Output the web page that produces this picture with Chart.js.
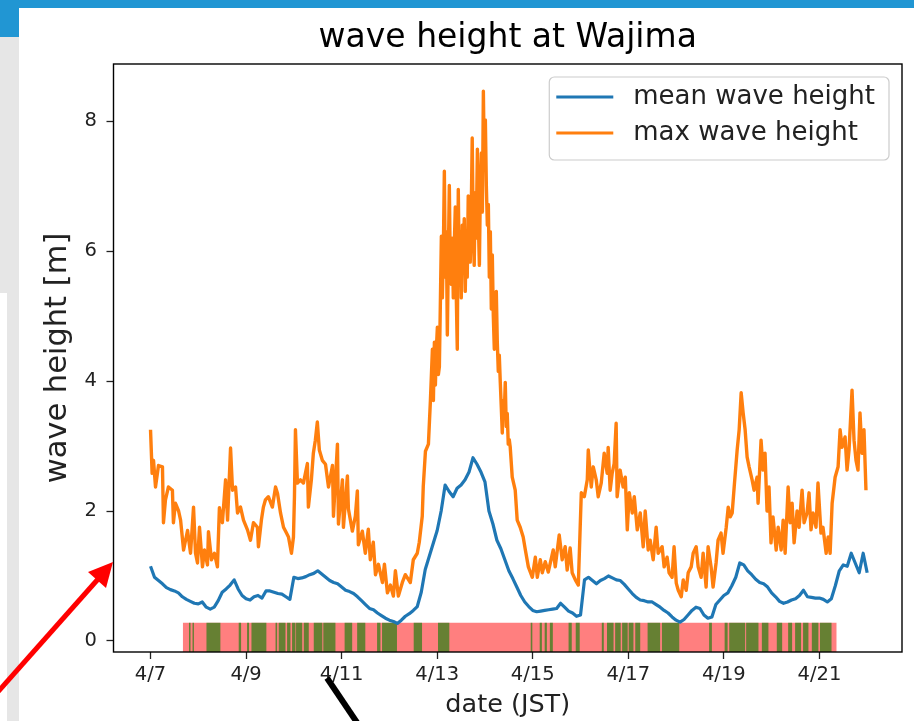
<!DOCTYPE html>
<html><head><meta charset="utf-8">
<script src="https://cdn.jsdelivr.net/npm/chart.js@4.4.1/dist/chart.umd.min.js"></script>
<style>
html,body{margin:0;padding:0;background:#fff;width:914px;height:721px;overflow:hidden;position:relative}
.deco{position:absolute}
#wrap{position:absolute;left:0;top:0;width:914px;height:721px}
#over{position:absolute;left:0;top:0;pointer-events:none}
</style></head><body>
<div class="deco" style="left:0;top:0;width:914px;height:8px;background:#2196d3"></div>
<div class="deco" style="left:0;top:0;width:19px;height:37px;background:#2196d3"></div>
<div class="deco" style="left:0;top:37px;width:19px;height:256px;background:#e6e6e6"></div>
<div class="deco" style="left:7px;top:293px;width:12px;height:428px;background:#e6e6e6"></div>
<div id="wrap"><canvas id="c" width="914" height="721"></canvas></div>
<svg id="over" width="914" height="721" viewBox="0 0 914 721">
  <line x1="-4" y1="694" x2="99" y2="578" stroke="#ff0000" stroke-width="5"/>
  <polygon points="113,562 88,572 106,588" fill="#ff0000"/>
  <line x1="327" y1="678" x2="358" y2="724" stroke="#000" stroke-width="6"/>
</svg>
<script>
// ---- data (hours since 4/7 00:00 JST) ----
const TICK_HOURS = [0, 48, 96, 144, 192, 240, 288, 336];
const TICK_LABELS = ['4/7', '4/9', '4/11', '4/13', '4/15', '4/17', '4/19', '4/21'];
const Y_TICKS = [0, 2, 4, 6, 8];

const MEAN_STEP_H = 2;
const MEAN_WAVE = [
 1.15,0.98,0.93,0.88,0.82,0.79,0.77,0.74,0.68,0.64,
 0.61,0.58,0.57,0.60,0.52,0.49,0.52,0.62,0.75,0.80,
 0.86,0.94,0.80,0.70,0.65,0.63,0.68,0.70,0.66,0.77,
 0.77,0.75,0.73,0.72,0.68,0.64,0.98,0.96,0.97,0.99,
 1.02,1.04,1.08,1.03,0.98,0.93,0.90,0.88,0.83,0.78,
 0.76,0.73,0.68,0.62,0.56,0.50,0.48,0.43,0.39,0.35,
 0.32,0.30,0.27,0.32,0.38,0.42,0.47,0.53,0.75,1.10,
 1.30,1.50,1.70,2.00,2.40,2.30,2.22,2.35,2.40,2.48,
 2.60,2.82,2.72,2.60,2.45,2.00,1.80,1.55,1.42,1.25,
 1.08,0.96,0.83,0.70,0.60,0.53,0.47,0.45,0.46,0.47,
 0.48,0.49,0.50,0.58,0.52,0.46,0.43,0.38,0.40,0.94,
 0.98,0.93,0.88,0.93,0.96,1.00,0.97,0.94,0.93,0.87,
 0.80,0.73,0.67,0.63,0.62,0.60,0.60,0.56,0.52,0.47,
 0.43,0.37,0.32,0.29,0.33,0.40,0.47,0.52,0.50,0.40,
 0.35,0.37,0.56,0.63,0.70,0.74,0.85,0.98,1.20,1.17,
 1.08,1.02,0.95,0.90,0.88,0.83,0.74,0.68,0.61,0.58,
 0.60,0.63,0.65,0.70,0.78,0.68,0.67,0.66,0.66,0.64,
 0.60,0.65,0.85,1.08,1.17,1.15,1.35,1.20,1.05,1.35,1.05
];

const MAX_HOURS = [
 0,0.8,1.5,2.5,4.0,6.0,6.5,7.5,9.0,11.0,11.5,12.5,14.1,15.1,16.6,18.6,20.1,21.6,22.6,23.6,
 24.6,26.1,27.1,28.6,29.1,30.6,32.1,33.6,34.6,36.1,37.7,38.7,40.2,41.2,42.7,43.7,45.2,46.7,48.7,50.2,
 51.7,53.7,54.2,55.7,56.7,57.7,59.2,61.2,62.8,63.8,65.3,66.8,68.3,69.3,70.8,71.8,72.3,72.8,73.8,75.3,
 76.8,78.8,79.3,80.8,81.8,82.8,83.8,84.8,86.3,87.9,89.4,91.4,91.9,93.9,94.4,96.4,96.9,98.9,99.4,101.4,
 102.9,103.9,104.4,106.4,107.9,109.4,110.4,111.9,113.0,114.5,116.5,117.5,119.0,120.5,122.0,123.0,124.5,126.5,128.0,130.5,
 132.0,134.0,135.0,136.5,137.0,138.1,139.6,140.6,
 141.6,142.1,142.6,143.1,143.6,144.1,144.6,145.1,145.6,146.1,
 146.6,147.1,147.6,148.1,148.6,149.1,149.6,150.1,150.6,151.1,
 151.6,152.1,152.6,153.1,153.6,154.1,154.6,155.1,155.6,156.1,
 156.6,157.1,157.6,158.1,158.6,159.1,159.6,160.1,160.6,161.1,
 161.6,162.1,162.6,163.1,163.6,164.2,164.7,165.2,165.7,166.2,
 166.7,167.2,167.7,168.2,168.7,169.2,169.7,170.2,170.7,171.2,
 171.7,172.2,172.7,173.2,173.7,174.2,174.7,175.2,175.7,176.2,
 176.7,177.2,177.7,178.2,178.7,179.2,179.7,180.2,180.7,
 181.7,183.2,184.2,185.7,187.2,188.3,189.8,191.8,193.3,194.3,195.8,196.8,198.3,199.8,
 202.3,203.3,205.3,206.8,208.3,209.3,210.8,211.8,213.4,214.9,216.4,217.9,219.4,219.9,221.4,222.4,223.9,224.9,226.4,227.9,
 229.4,229.9,230.9,231.9,232.9,233.9,234.4,235.9,237.4,238.5,239.5,240.5,242.0,243.0,244.5,246.0,247.5,248.5,250.0,251.0,
 252.5,254.0,255.0,257.0,258.0,259.5,260.5,262.0,263.0,264.1,265.1,266.6,267.6,269.1,270.1,271.6,272.6,274.1,275.1,276.6,
 277.6,279.1,280.1,281.6,282.6,284.1,285.1,286.6,287.6,289.2,290.2,291.2,292.2,293.2,294.7,295.7,296.7,297.7,298.7,299.7,
 300.7,302.2,303.2,304.7,305.2,306.7,307.7,308.7,309.7,310.7,311.7,312.7,314.3,315.3,316.8,317.8,318.8,320.3,321.3,322.3,
 323.3,324.8,325.8,327.3,328.3,329.8,330.8,331.8,332.8,334.3,335.3,336.8,337.8,339.4,340.4,341.4,342.4,343.9,345.4,346.4,
 347.4,348.9,349.9,350.9,352.4,353.4,354.4,355.4,356.4,357.4,358.4,359.4
];
const MAX_WAVE = [
 3.25,2.58,2.78,2.37,2.70,2.68,1.82,2.17,2.37,2.32,1.82,2.12,2.00,1.86,1.40,1.70,1.35,2.06,1.35,1.20,
 1.75,1.14,1.40,1.17,1.68,1.25,1.35,1.14,2.05,1.82,2.48,1.86,2.97,2.32,2.37,1.97,2.06,1.86,1.71,1.55,
 1.82,1.75,1.45,1.86,2.06,2.17,2.22,2.06,2.37,2.27,1.97,1.75,1.66,1.60,1.35,1.60,2.22,3.25,2.43,2.48,
 2.43,2.73,2.06,2.48,2.89,3.09,3.37,2.94,2.78,2.72,2.37,2.70,1.92,3.03,1.80,2.48,1.75,2.54,2.03,1.69,
 1.92,2.31,1.48,1.69,1.35,1.72,1.25,1.52,1.02,1.18,0.90,1.18,0.74,0.86,0.69,1.08,0.69,0.90,1.02,0.90,
 1.25,1.35,1.52,1.92,2.37,2.92,3.03,3.70,
 4.49,3.70,4.60,3.94,4.50,4.83,4.10,4.22,5.20,6.23,
 5.28,6.00,7.23,5.60,6.30,4.71,5.90,7.01,5.70,5.49,
 6.20,5.28,6.10,6.68,5.30,4.49,6.95,5.60,6.30,5.28,
 6.40,5.94,6.50,5.38,6.20,5.60,6.85,6.00,5.83,6.60,
 7.74,6.30,5.78,6.90,6.20,7.57,6.40,5.78,7.00,7.51,
 6.60,8.46,7.30,8.02,7.00,6.40,6.72,5.60,6.30,5.11,
 5.94,5.00,4.49,5.10,5.38,4.60,4.15,4.40,3.98,3.60,
 3.20,3.70,3.50,3.98,3.30,3.50,3.03,3.10,2.98,
 2.52,2.32,1.86,1.75,1.60,1.40,1.14,0.98,1.29,0.98,1.25,1.05,1.22,1.06,
 1.40,1.14,1.63,1.25,1.45,1.09,1.43,1.05,0.94,0.86,2.28,2.22,2.48,2.94,2.37,2.68,2.48,2.22,2.43,2.89,
 2.58,2.98,2.32,2.58,2.73,3.35,2.22,2.63,2.37,2.52,1.71,2.28,1.97,2.22,1.71,1.97,1.45,2.00,1.40,1.55,
 1.25,1.75,1.35,1.45,1.14,1.29,1.05,0.98,1.45,0.89,0.78,0.68,0.94,0.78,1.05,1.14,1.35,1.45,1.14,0.98,
 1.35,0.83,1.45,1.14,0.83,1.20,1.55,1.66,1.35,1.75,2.06,1.91,1.97,2.37,2.94,3.25,3.82,3.51,3.25,2.83,
 2.68,2.48,2.32,2.52,2.12,3.09,2.63,2.89,2.00,2.37,1.51,1.91,1.40,1.75,1.40,1.86,1.35,2.37,1.82,2.12,
 1.51,2.00,1.75,2.32,1.82,1.97,2.28,1.71,1.97,1.75,2.43,1.66,1.75,1.35,1.60,1.35,2.12,2.52,2.68,3.25,
 2.98,3.14,2.63,2.94,3.86,3.09,2.78,2.63,3.51,2.89,3.25,2.32
];

const BAND_RANGE = [16.2, 344.7];
const BAND_TOP = 0.28;
const GREEN_START = [19.3,21.1,28.1,44.3,48.5,50.7,62.8,64.4,68.6,71.1,73.1,77.0,82.0,86.8,97.5,103.8,113.8,116.3,132.2,144.4,
 191.0,195.5,198.0,200.6,210.0,213.6,226.7,229.3,233.4,236.9,240.2,243.5,249.7,256.9,280.6,288.4,290.7,299.2,307.1,314.6,
 320.3,323.8,327.8,332.2,336.3];
const GREEN_END = [20.1,21.8,35.1,45.5,49.5,58.2,63.6,67.8,70.3,72.8,76.2,79.5,86.3,92.9,101.3,107.9,115.5,123.8,136.4,150.1,
 191.8,196.6,199.1,202.1,211.6,215.6,227.7,232.6,236.2,239.7,242.6,246.0,256.0,265.6,282.0,289.9,298.7,305.4,310.4,317.3,
 322.3,326.8,330.5,335.5,342.2];

const X_MIN = -18.6, X_MAX = 377.5, Y_MIN = -0.17, Y_MAX = 8.88;

// ---- build point lists ----
const meanPts = MEAN_WAVE.map((v, i) => ({x: i * MEAN_STEP_H, y: v}));
const maxPts = MAX_WAVE.map((v, i) => ({x: MAX_HOURS[i], y: v}));
const bandPts = [
  {x: BAND_RANGE[0], y: Y_MIN}, {x: BAND_RANGE[0], y: BAND_TOP},
  {x: BAND_RANGE[1], y: BAND_TOP}, {x: BAND_RANGE[1], y: Y_MIN}
];
const greenPts = [];
GREEN_START.forEach((s, i) => {
  const e = GREEN_END[i];
  greenPts.push({x: s, y: Y_MIN}, {x: s, y: BAND_TOP}, {x: e, y: BAND_TOP}, {x: e, y: Y_MIN});
});

const FONT = 'DejaVu Sans';

const titleCenterPlugin = {
  id: 'titleCenter',
  afterLayout(chart) {
    const tb = chart.titleBlock;
    if (tb) { tb.left = chart.chartArea.left; tb.right = chart.chartArea.right; }
  }
};

const framePlugin = {
  id: 'frame',
  afterDatasetsDraw(chart) {
    const {ctx, chartArea: a} = chart;
    ctx.save();
    ctx.strokeStyle = '#000';
    ctx.lineWidth = 1.4;
    ctx.strokeRect(a.left, a.top, a.right - a.left, a.bottom - a.top);
    ctx.restore();
  }
};

const legendPlugin = {
  id: 'boxLegend',
  afterDraw(chart) {
    const {ctx, chartArea: a} = chart;
    const items = chart.data.datasets.filter(d => d.inLegend);
    ctx.save();
    ctx.font = '26px "' + FONT + '"';
    const tw = Math.max(...items.map(d => ctx.measureText(d.label).width));
    const w = 84 + tw + 14, h = 83;
    const right = a.right - 13, top = a.top + 13, left = right - w;
    ctx.beginPath();
    ctx.roundRect(left, top, w, h, 5);
    ctx.fillStyle = 'rgba(255,255,255,0.8)';
    ctx.fill();
    ctx.strokeStyle = '#cccccc';
    ctx.lineWidth = 1.2;
    ctx.stroke();
    items.forEach((d, i) => {
      const y = top + 20 + i * 36;
      ctx.beginPath();
      ctx.moveTo(left + 7, y);
      ctx.lineTo(left + 64, y);
      ctx.strokeStyle = d.borderColor;
      ctx.lineWidth = 3;
      ctx.stroke();
      ctx.fillStyle = '#222';
      ctx.textBaseline = 'middle';
      ctx.textAlign = 'left';
      ctx.fillText(d.label, left + 84, y);
    });
    ctx.restore();
  }
};

new Chart(document.getElementById('c'), {
  type: 'line',
  data: {
    datasets: [
      {label: 'mean wave height', inLegend: true, data: meanPts, borderColor: '#1f77b4', borderWidth: 3.2,
       pointRadius: 0, fill: false, order: 0, borderJoinStyle: 'round'},
      {label: 'max wave height', inLegend: true, data: maxPts, borderColor: '#ff7f0e', borderWidth: 3.4,
       pointRadius: 0, fill: false, order: 1, borderJoinStyle: 'round'},
      {label: 'ok', data: greenPts, borderColor: 'rgba(0,0,0,0)', borderWidth: 0,
       backgroundColor: 'rgba(0,128,0,0.6)', pointRadius: 0, fill: 'start', order: 9},
      {label: 'band', data: bandPts, borderColor: 'rgba(0,0,0,0)', borderWidth: 0,
       backgroundColor: 'rgba(255,0,0,0.5)', pointRadius: 0, fill: 'start', order: 10}
    ]
  },
  options: {
    responsive: false,
    animation: false,
    events: [],
    layout: {padding: {top: 0, right: 12, left: 0, bottom: 0}},
    plugins: {
      legend: {display: false},
      tooltip: {enabled: false},
      title: {display: true, text: 'wave height at Wajima', color: '#000',
              font: {family: FONT, size: 33, weight: 'normal'}, padding: {top: 19, bottom: 5.4}}
    },
    scales: {
      x: {
        type: 'linear', min: X_MIN, max: X_MAX,
        afterBuildTicks(s) { s.ticks = TICK_HOURS.map(v => ({value: v})); },
        afterFit(s) { s.height = 69; },
        ticks: {callback: (v, i) => TICK_LABELS[i], color: '#222', padding: 4, maxRotation: 0, autoSkip: false,
                font: {family: FONT, size: 19.5}},
        grid: {display: true, drawOnChartArea: false, drawTicks: true, tickLength: 7, color: '#222', tickWidth: 1.3},
        border: {display: false},
        title: {display: true, text: 'date (JST)', color: '#222', font: {family: FONT, size: 25.5},
                padding: {top: 0, bottom: 0}}
      },
      y: {
        type: 'linear', min: Y_MIN, max: Y_MAX,
        afterBuildTicks(s) { s.ticks = Y_TICKS.map(v => ({value: v})); },
        afterFit(s) { s.width = 113.5; },
        ticks: {callback: v => String(v), color: '#222', padding: 9.5, font: {family: FONT, size: 19.5}},
        grid: {display: true, drawOnChartArea: false, drawTicks: true, tickLength: 7, color: '#222', tickWidth: 1.3},
        border: {display: false},
        title: {display: true, text: 'wave height [m]', color: '#222', font: {family: FONT, size: 30.5},
                padding: {top: 39.5, bottom: 0}}
      }
    }
  },
  plugins: [titleCenterPlugin, framePlugin, legendPlugin]
});
</script>
</body></html>
